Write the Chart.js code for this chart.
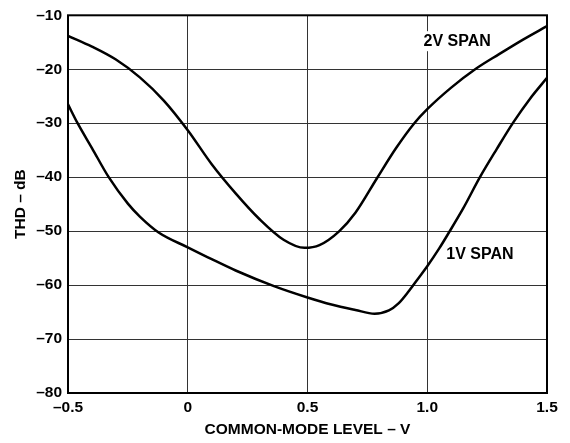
<!DOCTYPE html>
<html>
<head>
<meta charset="utf-8">
<script src="https://cdn.jsdelivr.net/npm/chart.js@4"></script>
<style>
  html, body { margin: 0; padding: 0; background: #fff; }
  #wrap { width: 570px; height: 443px; }
</style>
</head>
<body>
<div id="wrap"><canvas id="myChart" width="570" height="443"></canvas></div>
<script>
// common-mode level (V) and THD (dB)
const span2x = [-0.5, -0.4, -0.3, -0.2, -0.1, 0, 0.1, 0.2, 0.3, 0.4, 0.4875, 0.55, 0.633, 0.7, 0.79, 0.87, 0.946, 1.0, 1.1, 1.2, 1.3, 1.4, 1.5];
const span2y = [-13.8, -15.8, -18.2, -21.5, -25.8, -31.3, -37.6, -43.0, -47.8, -51.6, -53.1, -52.6, -50.0, -46.6, -40.2, -34.6, -30.0, -27.4, -23.4, -20.0, -17.2, -14.5, -12.0];

const span1x = [-0.5, -0.46, -0.4, -0.33, -0.25, -0.2, -0.12, 0, 0.1, 0.2, 0.36, 0.5, 0.6, 0.7, 0.78, 0.84, 0.88, 0.92, 0.96, 1.0, 1.05, 1.09, 1.15, 1.22, 1.29, 1.36, 1.43, 1.5];
const span1y = [-26.5, -30.0, -34.6, -40.0, -44.9, -47.3, -50.3, -53.0, -55.2, -57.3, -60.2, -62.3, -63.6, -64.6, -65.3, -64.7, -63.4, -61.3, -58.9, -56.5, -53.2, -50.3, -45.8, -40.0, -34.8, -29.8, -25.4, -21.6];

const xTickValues = [-0.5, 0, 0.5, 1.0, 1.5];
const xTickLabels = ['–0.5', '0', '0.5', '1.0', '1.5'];
const yTickValues = [-80, -70, -60, -50, -40, -30, -20, -10];
const yTickLabels = ['–80', '–70', '–60', '–50', '–40', '–30', '–20', '–10'];

// curve labels, placed in data coordinates
const curveLabels = [
  { text: '2V SPAN', x: 1.125, y: -14.8 },
  { text: '1V SPAN', x: 1.22, y: -54.4 }
];

const FONT = "'Liberation Sans', Arial, Helvetica, sans-serif";

function toPoints(xs, ys) {
  return xs.map((x, i) => ({ x: x, y: ys[i] }));
}

const framePlugin = {
  id: 'frame',
  afterDraw(chart) {
    const { ctx, chartArea: a, scales } = chart;
    ctx.save();
    ctx.strokeStyle = '#000';
    ctx.lineWidth = 2;
    ctx.strokeRect(a.left, a.top, a.right - a.left, a.bottom - a.top);

    ctx.font = 'bold 16px ' + FONT;
    ctx.textAlign = 'center';
    ctx.textBaseline = 'middle';
    curveLabels.forEach(l => {
      const px = scales.x.getPixelForValue(l.x);
      const py = scales.y.getPixelForValue(l.y);
      const w = ctx.measureText(l.text).width;
      ctx.fillStyle = '#fff';
      ctx.fillRect(px - w / 2 - 3, py - 10, w + 6, 20);
      ctx.fillStyle = '#000';
      ctx.fillText(l.text, px, py);
    });
    ctx.restore();
  }
};

const ctx = document.getElementById('myChart').getContext('2d');

const myChart = new Chart(ctx, {
  type: 'line',
  data: {
    datasets: [
      {
        label: '2V SPAN',
        data: toPoints(span2x, span2y),
        borderColor: '#000',
        borderWidth: 2.5,
        pointRadius: 0,
        cubicInterpolationMode: 'monotone',
        fill: false
      },
      {
        label: '1V SPAN',
        data: toPoints(span1x, span1y),
        borderColor: '#000',
        borderWidth: 2.5,
        pointRadius: 0,
        cubicInterpolationMode: 'monotone',
        fill: false
      }
    ]
  },
  options: {
    responsive: false,
    animation: false,
    layout: { padding: { left: 0, top: 10, right: 23, bottom: 0 } },
    plugins: {
      legend: { display: false },
      tooltip: { enabled: false }
    },
    scales: {
      x: {
        type: 'linear',
        min: -0.5,
        max: 1.5,
        afterBuildTicks: scale => { scale.ticks = xTickValues.map(v => ({ value: v })); },
        afterFit: scale => { scale.height = 50; },
        ticks: {
          color: '#000',
          padding: 5,
          maxRotation: 0,
          font: { family: FONT, size: 15.5, weight: 'bold' },
          callback: value => xTickLabels[xTickValues.indexOf(value)]
        },
        grid: { color: '#333', lineWidth: 1, drawTicks: false },
        border: { display: false },
        title: {
          display: true,
          text: 'COMMON-MODE LEVEL – V',
          color: '#000',
          font: { family: FONT, size: 15.5, weight: 'bold' },
          padding: { top: 0, bottom: 4 }
        }
      },
      y: {
        type: 'linear',
        min: -80,
        max: -10,
        afterBuildTicks: scale => { scale.ticks = yTickValues.map(v => ({ value: v })); },
        afterFit: scale => { scale.width = 68; },
        ticks: {
          color: '#000',
          padding: 6,
          font: { family: FONT, size: 15.5, weight: 'bold' },
          callback: value => yTickLabels[yTickValues.indexOf(value)]
        },
        grid: { color: '#333', lineWidth: 1, drawTicks: false },
        border: { display: false },
        title: {
          display: true,
          text: 'THD – dB',
          color: '#000',
          font: { family: FONT, size: 15.5, weight: 'bold' },
          padding: { top: 11, bottom: 0 }
        }
      }
    }
  },
  plugins: [framePlugin]
});
</script>
</body>
</html>
